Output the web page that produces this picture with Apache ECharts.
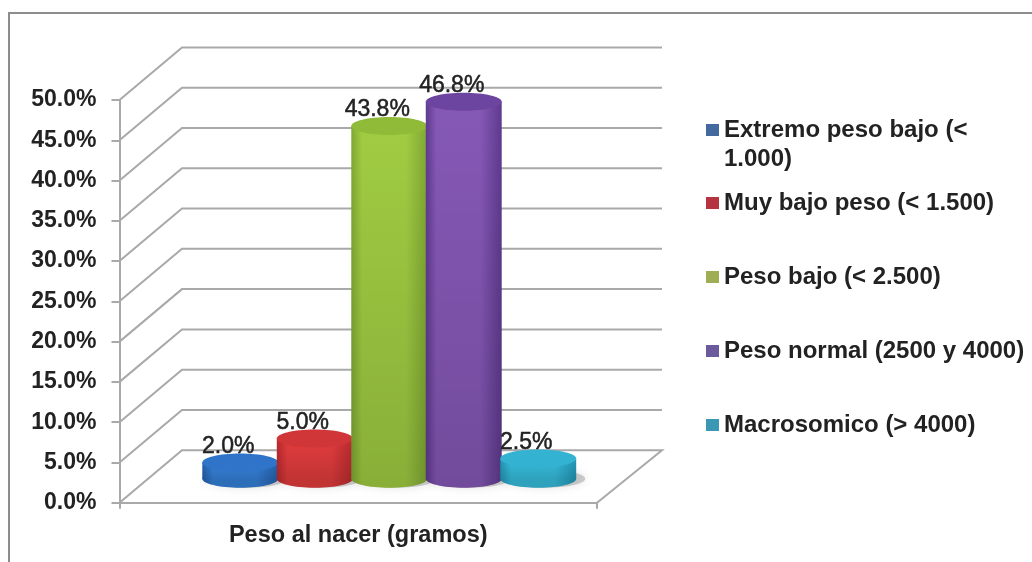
<!DOCTYPE html>
<html>
<head>
<meta charset="utf-8">
<style>
html,body{margin:0;padding:0;background:#fff;overflow:hidden}
#chart{width:1032px;height:562px;filter:blur(0.65px)}
</style>
<script src="https://cdn.jsdelivr.net/npm/echarts@6/dist/echarts.min.js"></script>
</head>
<body>
<div id="chart"></div>
<script>
const categories = ['Peso al nacer (gramos)'];
const seriesNames = ['Extremo peso bajo (< 1.000)','Muy bajo peso (< 1.500)','Peso bajo (< 2.500)','Peso normal (2500 y 4000)','Macrosomico (> 4000)'];
const seriesValues = [2.0, 5.0, 43.8, 46.8, 2.5];
const valueLabels = ['2.0%','5.0%','43.8%','46.8%','2.5%'];
const yTicks = [0,5,10,15,20,25,30,35,40,45,50];

const edgeColors  = ['#2460ad','#b82a2e','#7fa832','#5f3a8f','#2296b6'];
const midColors   = ['#3580d8','#e23c3d','#a0cc42','#8558b6','#36bcdc'];
const topColors   = ['#2f74c8','#d03538','#8fbb38','#6c45a0','#33b2d2'];
const legendColors= ['#44699f','#b5343f','#9fae55','#6b5a9c','#3a98b5'];

const FONT = '"Liberation Sans", Arial, sans-serif';
const DEPTH_X = 62.5, DEPTH_Y = 52.5, LIFT = 24, SHIFT_X = 31;
const SLOT = 0.156, RX_FRAC = 0.0795, RY = 9;

const hGrad = (e, m) => ({type:'linear',x:0,y:0,x2:1,y2:0,colorStops:[
  {offset:0,color:e},{offset:0.14,color:m},{offset:0.72,color:m},{offset:1,color:e}]});

function cylinder(i){
  return function(params, api){
    const cs = params.coordSys;
    const topP = api.coord([0, api.value(1)]);
    const baseP = api.coord([0, 0]);
    const cx = topP[0] + (i - 2) * cs.width * SLOT + SHIFT_X;
    const rx = cs.width * RX_FRAC;
    const yTop = topP[1] - LIFT, yBase = baseP[1] - LIFT;
    const fill = hGrad(edgeColors[i], midColors[i]);
    return {type:'group', children:[
      {type:'ellipse', shape:{cx:cx+6, cy:yBase, rx:rx+3, ry:RY},
        style:{fill:'rgba(130,130,130,0.38)', shadowBlur:10, shadowColor:'rgba(130,130,130,0.6)'}},
      {type:'ellipse', shape:{cx:cx, cy:yBase, rx:rx, ry:RY}, style:{fill:fill}},
      {type:'ellipse', shape:{cx:cx, cy:yBase, rx:rx, ry:RY}, style:{fill:'rgba(0,0,0,0.14)'}},
      {type:'rect', shape:{x:cx-rx, y:yTop, width:2*rx, height:yBase-yTop}, style:{fill:fill}},
      {type:'rect', shape:{x:cx-rx, y:yTop, width:2*rx, height:yBase-yTop}, style:{fill:{type:'linear',x:0,y:0,x2:0,y2:1,colorStops:[
        {offset:0,color:'rgba(0,0,0,0)'},{offset:1,color:'rgba(0,0,0,0.14)'}]}}},
      {type:'ellipse', shape:{cx:cx, cy:yTop, rx:rx, ry:RY}, style:{fill:topColors[i]}}
    ]};
  };
}

function wallLine(params, api){
  const cs = params.coordSys;
  const p = api.coord([0, api.value(0)]);
  const x0 = cs.x, x1 = cs.x + DEPTH_X, x2 = cs.x + cs.width + 65;
  const y0 = p[1], y1 = p[1] - DEPTH_Y;
  const st = {stroke:'#a9a9a9', lineWidth:2, fill:'none'};
  const pts = api.value(0) === 0
    ? [[x0,y0],[x1,y1],[x2,y1],[cs.x+cs.width,y0]]
    : [[x0,y0],[x1,y1],[x2,y1]];
  return {type:'polyline', shape:{points:pts}, style:st};
}

function valueLabel(params, api){
  const cs = params.coordSys, i = params.dataIndex;
  const p = api.coord([0, api.value(1)]);
  const cx = p[0] + (i - 2) * cs.width * SLOT + SHIFT_X - 12;
  return {type:'text', style:{text:valueLabels[i], x:cx, y:p[1]-LIFT-16, align:'center', verticalAlign:'middle',
    fill:'#222', stroke:'#222', lineWidth:0.5, font:'23px '+FONT}};
}

const chart = echarts.init(document.getElementById('chart'), null, {renderer:'canvas'});
const legendText = {color:'#222', fontFamily:FONT, fontWeight:'bold', fontSize:24, lineHeight:24};
chart.setOption({
  animation:false,
  backgroundColor:'#fff',
  graphic:[
    {type:'rect', silent:true, shape:{x:9,y:13,width:1060,height:600}, style:{fill:'none',stroke:'#8d8d8d',lineWidth:2}},
    {type:'text', silent:true, left:724, top:147, style:{text:'1.000)', fill:'#222', font:'bold 24px '+FONT}}
  ],
  grid:{left:119.5, top:100, width:477.5, height:402.7, containLabel:false},
  xAxis:{type:'category', data:categories,
    axisLine:{lineStyle:{color:'#a9a9a9',width:2}},
    axisTick:{show:true,length:6,lineStyle:{color:'#a9a9a9',width:2}},
    axisLabel:{margin:21,color:'#222',fontFamily:FONT,fontWeight:'bold',fontSize:23.5},
    splitLine:{show:false}},
  yAxis:{type:'value', min:0, max:50, interval:5,
    axisLine:{show:true,lineStyle:{color:'#a9a9a9',width:2}},
    axisTick:{show:true,length:8,lineStyle:{color:'#a9a9a9',width:2}},
    axisLabel:{margin:23,color:'#222',fontFamily:FONT,fontWeight:'bold',fontSize:23,formatter:v=>v.toFixed(1)+'%'},
    splitLine:{show:false}},
  legend:[
    {orient:'vertical', left:706, top:118, padding:0, itemWidth:13, itemHeight:12, selectedMode:false,
      data:[{name:seriesNames[0], icon:'rect'}],
      formatter:n=>n.replace(' 1.000)',''), textStyle:legendText},
    {orient:'vertical', left:706, top:191, padding:0, itemWidth:13, itemHeight:12, itemGap:50, selectedMode:false,
      data:seriesNames.slice(1).map(n=>({name:n, icon:'rect'})), textStyle:legendText}
  ],
  series:[
    {type:'custom', z:1, silent:true, renderItem:wallLine, encode:{y:0}, data:yTicks.map(v=>[v])}
  ].concat(seriesNames.map((n,i)=>({
    type:'custom', name:n, z:2+i, silent:true, renderItem:cylinder(i),
    itemStyle:{color:legendColors[i]}, encode:{x:0,y:1}, data:[[0,seriesValues[i]]]
  }))).concat([
    {type:'custom', z:20, silent:true, renderItem:valueLabel, encode:{x:0,y:1}, data:seriesValues.map(v=>[0,v])}
  ])
});
</script>
</body>
</html>
